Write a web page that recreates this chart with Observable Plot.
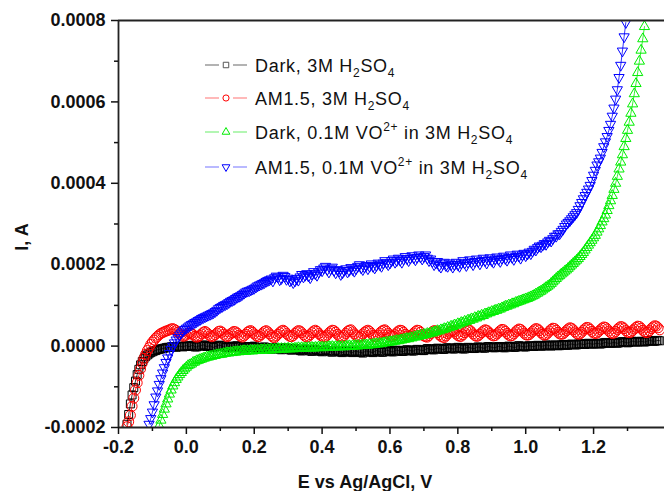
<!DOCTYPE html>
<html><head><meta charset="utf-8">
<script src="https://cdn.jsdelivr.net/npm/d3@7"></script>
<script src="https://cdn.jsdelivr.net/npm/@observablehq/plot@0.6"></script>
<style>body{margin:0;background:#fff;overflow:hidden} svg{display:block}</style>
</head><body><div id="chart"></div>
<script>
// Potential E vs Ag/AgCl (V), shared by all four sweeps (one row = 0.1 V)
const E = [
-0.200,-0.195,-0.190,-0.185,-0.180,-0.175,-0.170,-0.165,-0.160,-0.155,-0.150,-0.145,-0.140,-0.135,-0.130,-0.125,-0.120,-0.115,-0.110,-0.105,
-0.100,-0.095,-0.090,-0.085,-0.080,-0.075,-0.070,-0.065,-0.060,-0.055,-0.050,-0.045,-0.040,-0.035,-0.030,-0.025,-0.020,-0.015,-0.010,-0.005,
0.000,0.005,0.010,0.015,0.020,0.025,0.030,0.035,0.040,0.045,0.050,0.055,0.060,0.065,0.070,0.075,0.080,0.085,0.090,0.095,
0.100,0.105,0.110,0.115,0.120,0.125,0.130,0.135,0.140,0.145,0.150,0.155,0.160,0.165,0.170,0.175,0.180,0.185,0.190,0.195,
0.200,0.205,0.210,0.215,0.220,0.225,0.230,0.235,0.240,0.245,0.250,0.255,0.260,0.265,0.270,0.275,0.280,0.285,0.290,0.295,
0.300,0.305,0.310,0.315,0.320,0.325,0.330,0.335,0.340,0.345,0.350,0.355,0.360,0.365,0.370,0.375,0.380,0.385,0.390,0.395,
0.400,0.405,0.410,0.415,0.420,0.425,0.430,0.435,0.440,0.445,0.450,0.455,0.460,0.465,0.470,0.475,0.480,0.485,0.490,0.495,
0.500,0.505,0.510,0.515,0.520,0.525,0.530,0.535,0.540,0.545,0.550,0.555,0.560,0.565,0.570,0.575,0.580,0.585,0.590,0.595,
0.600,0.605,0.610,0.615,0.620,0.625,0.630,0.635,0.640,0.645,0.650,0.655,0.660,0.665,0.670,0.675,0.680,0.685,0.690,0.695,
0.700,0.705,0.710,0.715,0.720,0.725,0.730,0.735,0.740,0.745,0.750,0.755,0.760,0.765,0.770,0.775,0.780,0.785,0.790,0.795,
0.800,0.805,0.810,0.815,0.820,0.825,0.830,0.835,0.840,0.845,0.850,0.855,0.860,0.865,0.870,0.875,0.880,0.885,0.890,0.895,
0.900,0.905,0.910,0.915,0.920,0.925,0.930,0.935,0.940,0.945,0.950,0.955,0.960,0.965,0.970,0.975,0.980,0.985,0.990,0.995,
1.000,1.005,1.010,1.015,1.020,1.025,1.030,1.035,1.040,1.045,1.050,1.055,1.060,1.065,1.070,1.075,1.080,1.085,1.090,1.095,
1.100,1.105,1.110,1.115,1.120,1.125,1.130,1.135,1.140,1.145,1.150,1.155,1.160,1.165,1.170,1.175,1.180,1.185,1.190,1.195,
1.200,1.205,1.210,1.215,1.220,1.225,1.230,1.235,1.240,1.245,1.250,1.255,1.260,1.265,1.270,1.275,1.280,1.285,1.290,1.295,
1.300,1.305,1.310,1.315,1.320,1.325,1.330,1.335,1.340,1.345,1.350,1.355,1.360,1.365,1.370,1.375,1.380,1.385,1.390,1.395
];
// Currents in microamps
const darkAcid = [
null,null,null,null,null,-192,-168,-142,-120,-102,-86,-70,-57,-46,-38,-31,-26,-22,-19,-16,
-14,-12,-11,-9,-8,-7,-6,-5,-4,-3,-3,-2,-1,-2,-3,-1,0,-1,-2,0,
1,-1,-1,1,2,-2,-2,0,0,2,3,1,-1,0,1,-2,-3,-1,0,2,
2,0,-2,-3,-4,-1,0,-2,-3,0,1,-1,-2,-4,-5,-2,-1,-2,-3,-1,
0,-3,-4,-5,-6,-3,-2,-4,-5,-7,-8,-5,-3,-5,-6,-8,-9,-6,-4,-6,
-7,-9,-10,-7,-6,-8,-9,-11,-12,-9,-7,-9,-10,-12,-13,-10,-8,-10,-11,-13,
-14,-11,-9,-11,-12,-14,-15,-12,-10,-12,-13,-15,-16,-13,-11,-13,-14,-15,-16,-13,
-12,-14,-15,-16,-17,-14,-12,-13,-14,-15,-16,-13,-11,-12,-14,-15,-15,-12,-10,-11,
-13,-14,-14,-11,-10,-11,-12,-13,-13,-10,-9,-10,-11,-12,-12,-9,-8,-9,-10,-11,
-11,-8,-6,-7,-8,-9,-9,-6,-5,-6,-7,-8,-8,-5,-4,-5,-6,-7,-7,-4,
-3,-4,-6,-7,-7,-4,-3,-4,-5,-6,-6,-3,-2,-3,-4,-5,-5,-2,-1,-2,
-3,-4,-4,-2,-1,-1,-3,-4,-4,-1,0,-1,-2,-3,-3,0,1,0,-1,-2,
-2,0,1,0,-1,-1,1,2,1,0,0,1,3,2,1,0,2,3,2,1,
1,3,4,3,2,2,4,5,4,3,3,5,6,5,4,4,6,7,6,5,
5,6,7,6,5,6,8,9,8,7,7,8,9,8,7,8,10,11,10,9,
8,9,11,12,11,10,10,11,12,11,10,11,13,14,13,12,12,13,14,13
];
const lightAcid = [
null,null,null,null,null,-198,-186,-170,-148,-128,-108,-90,-72,-56,-42,-30,-20,-11,-4,4,
10,15,20,24,28,31,33,35,37,38,40,42,43,41,38,34,30,27,24,25,
27,31,33,31,28,24,22,23,26,30,34,36,33,29,25,23,25,28,32,36,
37,34,29,25,23,26,30,33,36,35,32,27,24,22,25,29,34,37,38,34,
30,26,23,24,28,32,36,38,35,30,26,22,21,25,29,33,37,39,36,31,
27,24,23,26,31,35,38,37,33,28,24,22,24,28,33,37,39,36,31,27,
24,22,23,27,32,36,39,38,34,29,25,22,22,26,31,36,39,40,35,30,
26,23,22,25,30,34,37,39,36,31,26,23,23,27,32,36,39,40,36,31,
27,24,24,28,33,37,39,38,34,29,25,23,24,28,32,36,39,38,34,29,
25,23,22,26,31,35,38,37,33,28,24,22,21,25,30,34,37,38,35,30,
26,24,24,28,33,37,40,39,35,30,26,24,25,29,33,37,40,39,35,31,
27,25,26,30,34,38,41,40,36,31,27,25,26,30,35,39,42,41,37,32,
28,27,28,32,36,40,43,42,38,33,29,27,28,32,37,41,44,43,39,34,
30,29,30,34,38,42,45,44,40,35,31,29,30,34,39,43,46,45,41,36,
32,31,32,36,40,44,47,46,42,37,33,31,32,36,41,45,48,47,43,38,
34,33,34,38,42,46,49,48,44,39,35,33,34,38,43,47,50,49,45,40
];
const darkVO = [
null,null,null,null,null,null,null,null,null,null,null,null,null,null,null,null,null,null,null,null,
null,null,null,null,-196,-182,-168,-155,-142,-130,-118,-108,-98,-90,-82,-76,-70,-65,-60,-56,
-52,-48,-46,-44,-40,-39,-36,-35,-33,-32,-30,-29,-27,-27,-25,-25,-23,-23,-21,-21,
-20,-20,-18,-18,-16,-17,-15,-16,-14,-15,-13,-14,-12,-13,-11,-13,-11,-12,-10,-12,
-10,-11,-9,-11,-9,-10,-8,-10,-8,-10,-7,-9,-7,-9,-6,-8,-6,-8,-6,-7,
-5,-7,-5,-7,-5,-6,-4,-6,-4,-6,-4,-5,-3,-5,-3,-5,-3,-4,-2,-4,
-2,-4,-2,-3,-1,-3,-1,-3,-1,-2,0,-2,0,-2,0,-1,1,-1,1,0,
2,0,2,1,3,2,3,2,4,3,5,4,6,5,7,6,8,8,10,9,
11,10,12,12,14,13,15,15,17,17,19,18,21,20,23,22,25,24,27,26,
29,28,31,30,33,32,35,35,38,37,40,40,43,42,46,45,49,48,52,51,
55,54,58,57,61,60,64,63,67,66,70,69,73,72,76,75,79,79,82,82,
85,85,88,88,91,91,94,95,98,98,101,101,104,104,107,108,110,111,113,114,
116,117,119,121,123,125,128,130,133,135,138,141,144,147,150,154,158,162,166,170,
173,177,180,184,187,191,195,199,203,207,211,215,220,225,230,236,242,248,254,260,
266,272,280,288,296,305,313,322,333,345,357,370,385,400,417,435,452,470,490,510,
530,550,572,595,620,645,672,700,727,755,785,null,null,null,null,null,null,null,null,null
];
const lightVO = [
null,null,null,null,null,null,null,null,null,null,null,null,null,null,null,null,null,null,-192,-178,
-162,-144,-125,-110,-94,-80,-66,-53,-40,-29,-18,-8,0,8,15,21,27,32,37,41,
44,47,50,53,55,58,60,63,65,68,70,72,74,76,78,80,82,85,88,92,
95,97,100,102,104,107,110,112,114,117,120,122,124,127,130,133,135,136,138,140,
142,145,148,150,152,154,156,159,161,163,165,160,168,172,170,163,166,174,171,164,
167,160,163,156,160,166,162,170,176,170,174,178,172,168,177,183,178,174,182,188,
185,192,196,188,182,190,194,186,180,188,184,176,180,186,190,182,186,193,188,184,
190,196,200,192,188,194,198,190,196,202,196,192,198,204,200,196,204,210,205,200,
204,210,214,206,210,216,211,206,214,220,215,210,216,222,217,212,218,224,219,214,
220,224,216,210,214,208,200,204,208,198,194,202,206,198,196,204,200,194,200,206,
200,196,204,210,204,198,206,212,206,200,208,214,208,202,210,216,210,204,212,217,
210,206,214,219,213,208,216,221,215,211,218,224,218,213,220,226,221,216,224,228,
222,226,231,227,233,238,236,242,246,244,248,252,250,256,260,258,264,270,270,276,
276,282,287,294,300,304,308,313,318,323,328,336,345,353,362,370,378,386,395,407,
420,432,445,453,462,476,490,502,515,530,545,565,585,607,630,660,690,725,760,795,
null,null,null,null,null,null,null,null,null,null,null,null,null,null,null,null,null,null,null,null
];
const xTicks = [-0.2,0.0,0.2,0.4,0.6,0.8,1.0,1.2];
const xMinor = [-0.1,0.1,0.3,0.5,0.7,0.9,1.1,1.3];
const yTicks = [-0.0002,0,0.0002,0.0004,0.0006,0.0008];
const yMinor = [-0.0001,0.0001,0.0003,0.0005,0.0007];

const series = [
  {values: darkAcid, color:"#000000", lineColor:"#808080", symbol:"square", r:4.5, rotate:0,
   label:[["Dark, 3M H",0],["2",1],["SO",0],["4",1]]},
  {values: lightAcid, color:"#ff0000", lineColor:"#ff8a8a", symbol:"circle", r:5, rotate:0,
   label:[["AM1.5, 3M H",0],["2",1],["SO",0],["4",1]]},
  {values: darkVO, color:"#00ee00", lineColor:"#80f080", symbol:"triangle", r:3.8, rotate:0,
   label:[["Dark, 0.1M VO",0],["2+",2],[" in 3M H",0],["2",1],["SO",0],["4",1]]},
  {values: lightVO, color:"#0000ff", lineColor:"#8a8aff", symbol:"triangle", r:3.8, rotate:180,
   label:[["AM1.5, 0.1M VO",0],["2+",2],[" in 3M H",0],["2",1],["SO",0],["4",1]]}
];

const dataMarks = series.flatMap(s => {
  const rows = s.values.map((v, i) => ({E: E[i], I: v == null ? null : v * 1e-6})).filter(d => d.I != null && d.E != null);
  return [
    Plot.line(rows, {x: "E", y: "I", stroke: s.color, strokeWidth: 0.8, clip: true}),
    Plot.dot(rows, {x: "E", y: "I", symbol: s.symbol, r: s.r, rotate: s.rotate, stroke: s.color, fill: "none", strokeWidth: 1, clip: true})
  ];
});

const axisStyle = {fontSize: 18, fontWeight: "bold", strokeWidth: 1.5};

const chart = Plot.plot({
  width: 664, height: 491,
  marginLeft: 118, marginRight: 0, marginTop: 20, marginBottom: 64,
  style: {fontFamily: "'Liberation Sans', Arial, sans-serif", color: "#111", background: "#fff", overflow: "hidden"},
  x: {domain: [-0.2, 1.409]},
  y: {domain: [-0.0002, 0.0008]},
  marks: [
    ...dataMarks,
    Plot.ruleX([-0.2], {stroke: "#222", strokeWidth: 1.8}),
    Plot.ruleY([-0.0002], {stroke: "#222", strokeWidth: 1.8}),
    Plot.ruleY([0.0008], {stroke: "#222", strokeWidth: 1.8}),
    Plot.axisX(xTicks, {...axisStyle, tickSize: 7, tickPadding: 6, tickFormat: d => d.toFixed(1), label: null}),
    Plot.axisX(xMinor, {strokeWidth: 1.5, tickSize: 4, tickFormat: () => "", label: null}),
    Plot.axisY(yTicks, {...axisStyle, tickSize: 7, tickPadding: 6, tickFormat: d => d.toFixed(4), label: null}),
    Plot.axisY(yMinor, {strokeWidth: 1.5, tickSize: 4, tickFormat: () => "", label: null})
  ]
});
document.getElementById("chart").appendChild(chart);

const svg = d3.select(chart);
svg.append("text")
  .attr("x", 365).attr("y", 488).attr("text-anchor", "middle")
  .attr("font-size", 18).attr("font-weight", "bold").attr("fill", "#111")
  .text("E vs Ag/AgCl, V");
svg.append("text")
  .attr("transform", "translate(28,237) rotate(-90)").attr("text-anchor", "middle")
  .attr("font-size", 18).attr("font-weight", "bold").attr("fill", "#111")
  .text("I, A");

// Legend
const rowY = [65, 98, 132, 167];
const lg = svg.append("g").attr("font-size", 18).attr("font-weight", "normal").attr("fill", "#111").attr("text-anchor", "start");
series.forEach((s, k) => {
  const y = rowY[k];
  const g = lg.append("g");
  g.append("line").attr("x1", 205).attr("x2", 219).attr("y1", y).attr("y2", y).attr("stroke", s.lineColor).attr("stroke-width", 1.2);
  g.append("line").attr("x1", 233).attr("x2", 247).attr("y1", y).attr("y2", y).attr("stroke", s.lineColor).attr("stroke-width", 1.2);
  const sym = {square: d3.symbolSquare, circle: d3.symbolCircle, triangle: d3.symbolTriangle}[s.symbol];
  g.append("path").attr("d", d3.symbol(sym, s.symbol === "triangle" ? 26 : 30)())
    .attr("transform", `translate(226,${y}) rotate(${s.rotate})`)
    .attr("fill", "none").attr("stroke", s.color === "#000000" ? "#555" : s.color).attr("stroke-width", 1);
  const t = g.append("text").attr("x", 255).attr("y", y + 6.5).attr("text-anchor", "start")
    .style("white-space", "pre").attr("letter-spacing", 0.7);
  let shift = 0;
  s.label.forEach(([txt, kind]) => {
    const target = kind === 1 ? 5 : kind === 2 ? -8 : 0;
    t.append("tspan").attr("dy", target - shift).attr("font-size", kind ? 12 : 18).text(txt);
    shift = target;
  });
});
</script>
</body></html>
